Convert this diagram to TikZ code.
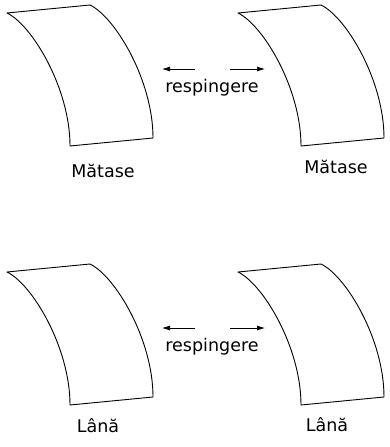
\documentclass[tikz,border=0pt]{standalone}
\usepackage{fontspec}
\setmainfont{DejaVu Sans}
\usepackage{tikz}
\usetikzlibrary{arrows.meta,positioning}
\tikzstyle{line} = [draw, line width=0.7pt, -{Latex[length=8pt,width=5pt]}]
\tikzstyle{fabric} = [draw, line width=0.9pt, fill=white, line join=round]
\tikzstyle{word} = [inner sep=0pt, font=\fontsize{17.5}{10}\selectfont]

% one curved sheet of cloth, top-left corner at #1
\newcommand{\cloth}[1]{%
\path [fabric, shift={#1}] (0,0) -- (83,-8) .. controls (108,4) and (146,67) .. (146,125) -- (63,133) .. controls (63,75) and (25,12) .. (0,0) -- cycle;
}

\begin{document}
\begin{tikzpicture}[x=1pt, y=-1pt]
\useasboundingbox (0,0) rectangle (390,447);

\cloth{(7,13)}
\cloth{(238,13)}
\cloth{(7,272)}
\cloth{(238,272)}

\node [word] (silk1) at (103,171) {Mătase};
\node [word] (silk2) at (336,167) {Mătase};
\node [word] (wool1) at (98,426) {Lână};
\node [word] (wool2) at (327,425) {Lână};

\node [word] (resp1) at (212,88) {respingere};
\coordinate [above left=19pt and 17pt of resp1.center] (l1);
\coordinate [above left=19pt and 50pt of resp1.center] (l1tip);
\coordinate [above right=19pt and 18pt of resp1.center] (r1);
\coordinate [above right=19pt and 53pt of resp1.center] (r1tip);
\path [line] (l1) to (l1tip);
\path [line] (r1) to (r1tip);

\node [word] (resp2) at (212,347) {respingere};
\coordinate [above left=19pt and 17pt of resp2.center] (l2);
\coordinate [above left=19pt and 50pt of resp2.center] (l2tip);
\coordinate [above right=19pt and 18pt of resp2.center] (r2);
\coordinate [above right=19pt and 53pt of resp2.center] (r2tip);
\path [line] (l2) to (l2tip);
\path [line] (r2) to (r2tip);

\end{tikzpicture}
\end{document}
